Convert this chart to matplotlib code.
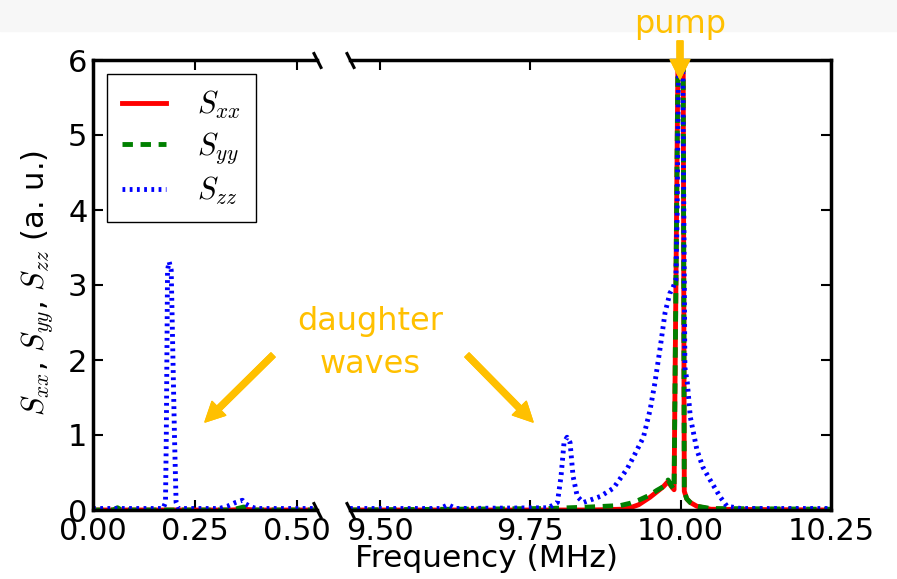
import matplotlib
matplotlib.use("Agg")
import matplotlib.pyplot as plt
from matplotlib.patches import Rectangle

# low-frequency part (daughter wave near 0.19 MHz)
f_zz_low = [0.0, 0.172, 0.178, 0.180, 0.183, 0.187, 0.192, 0.200, 0.204, 0.210,
            0.31, 0.33, 0.35, 0.367, 0.375, 0.385, 0.40, 0.55]
szz_low = [0.02, 0.02, 0.1, 1.0, 3.2, 3.31, 3.2, 1.0, 0.1, 0.02,
           0.02, 0.05, 0.1, 0.13, 0.08, 0.05, 0.02, 0.02]
f_xy_low = [0.0, 0.05, 0.06, 0.07, 0.34, 0.37, 0.40, 0.55]
sxx_low = [0.0, 0.0, 0.01, 0.0, 0.0, 0.01, 0.0, 0.0]
syy_low = [0.0, 0.0, 0.03, 0.0, 0.0, 0.04, 0.0, 0.0]

# high-frequency part (pump near 10 MHz, daughter near 9.81 MHz)
f_zz_high = [9.45, 9.60, 9.613, 9.626, 9.78, 9.795, 9.801, 9.806, 9.811, 9.816,
             9.821, 9.828, 9.838, 9.866, 9.888, 9.911, 9.921, 9.938, 9.949, 9.957,
             9.966, 9.974, 9.982, 9.987, 9.992, 9.994, 9.997, 10.003, 10.007, 10.011,
             10.016, 10.027, 10.037, 10.049, 10.066, 10.077, 10.10, 10.25]
szz_high = [0.02, 0.02, 0.07, 0.02, 0.03, 0.1, 0.45, 0.9, 0.97, 0.9,
            0.45, 0.18, 0.1, 0.18, 0.29, 0.55, 0.7, 0.97, 1.33, 1.69,
            2.17, 2.63, 2.89, 2.96, 3.07, 3.9, 6.5, 6.5, 1.9, 1.7,
            1.24, 0.8, 0.57, 0.4, 0.17, 0.05, 0.02, 0.02]
f_xy_high = [9.45, 9.78, 9.85, 9.90, 9.916, 9.93, 9.949, 9.96, 9.971, 9.979,
             9.984, 9.989, 9.996, 10.004, 10.006, 10.010, 10.016, 10.027, 10.05, 10.25]
sxx_high = [0.0, 0.0, 0.0, 0.01, 0.03, 0.07, 0.17, 0.24, 0.31, 0.38,
            0.32, 0.27, 6.5, 6.5, 0.25, 0.15, 0.1, 0.05, 0.01, 0.0]
syy_high = [0.0, 0.02, 0.04, 0.06, 0.09, 0.13, 0.2, 0.26, 0.31, 0.4,
            0.33, 0.27, 6.5, 6.5, 0.25, 0.15, 0.1, 0.05, 0.02, 0.01]

low_ticks = [0.0, 0.25, 0.5]
high_ticks = [9.5, 9.75, 10.0, 10.25]
y_ticks = [0, 1, 2, 3, 4, 5, 6]

orange = "#FFC000"
plt.rcParams["font.size"] = 22
plt.rcParams["mathtext.fontset"] = "cm"
plt.rcParams["lines.scale_dashes"] = False
plt.rcParams["xtick.direction"] = "in"
plt.rcParams["ytick.direction"] = "in"
plt.rcParams["xtick.major.size"] = 7
plt.rcParams["ytick.major.size"] = 7
plt.rcParams["xtick.major.width"] = 1.5
plt.rcParams["ytick.major.width"] = 1.5
plt.rcParams["xtick.major.pad"] = 5
plt.rcParams["ytick.major.pad"] = 4

W, H = 897, 579
fig = plt.figure(figsize=(W / 100, H / 100), dpi=100)
fig.add_artist(Rectangle((0, 1 - 31 / H), 1, 31 / H, transform=fig.transFigure,
                         color="#f7f7f7", zorder=-5))

ax1 = fig.add_axes([93 / W, 69 / H, 224 / W, 450 / H])
ax2 = fig.add_axes([350 / W, 69 / H, 481 / W, 450 / H])

lw = 3.5
for ax, fz, sz, fxy, sx, sy in [(ax1, f_zz_low, szz_low, f_xy_low, sxx_low, syy_low),
                                (ax2, f_zz_high, szz_high, f_xy_high, sxx_high, syy_high)]:
    ax.plot(fxy, sx, color="red", lw=lw, label="$S_{xx}$")
    ax.plot(fxy, sy, color="green", lw=lw, linestyle=(0, (7.5, 5.5)), label="$S_{yy}$")
    ax.plot(fz, sz, color="blue", lw=lw, linestyle=(0, (2.0, 3.2)), label="$S_{zz}$")
    ax.set_ylim(0, 6)
    ax.set_yticks(y_ticks)
    for s in ax.spines.values():
        s.set_linewidth(2.5)

ax1.set_xlim(0, 0.55)
ax1.set_xticks(low_ticks)
ax1.set_xticklabels(["0.00", "0.25", "0.50"])
ax1.spines["right"].set_visible(False)
ax1.tick_params(top=True, right=False)

ax2.set_xlim(9.45, 10.25)
ax2.set_xticks(high_ticks)
ax2.set_xticklabels(["9.50", "9.75", "10.00", "10.25"])
ax2.spines["left"].set_visible(False)
ax2.tick_params(left=False, labelleft=False, right=True, top=True)

# break marks
mk = dict(marker=[(-0.5, 1), (0.5, -1)], markersize=12, linestyle="none",
          color="k", mec="k", mew=2.2, clip_on=False)
ax1.plot([1, 1], [0, 1], transform=ax1.transAxes, **mk)
ax2.plot([0, 0], [0, 1], transform=ax2.transAxes, **mk)

leg = ax1.legend(loc="upper left", fontsize=22, fancybox=False, framealpha=1,
                 edgecolor="black", handlelength=1.45, handletextpad=1.0,
                 labelspacing=0.28, borderpad=0.5, borderaxespad=0.45)
leg.get_frame().set_linewidth(1.0)

fig.text(486 / W, 12 / H, "Frequency (MHz)", ha="center", va="baseline", fontsize=22.5)
fig.text(37 / W, 296 / H, "$S_{xx}$, $S_{yy}$, $S_{zz}$ (a. u.)", rotation=90,
         ha="center", va="center")

# annotations
fig.text(680 / W, 546 / H, "pump", color=orange, fontsize=23, ha="center", va="baseline")
fig.text(370 / W, 273 / H, "daughter\nwaves", color=orange, fontsize=23,
         ha="center", va="top", linespacing=1.5)
arrow = dict(arrowstyle="simple,head_length=1.0,head_width=1.0,tail_width=0.3",
             mutation_scale=14, color=orange, shrinkA=0, shrinkB=0)
for tail, tip in [((680, 538), (680, 500)), ((273, 224), (205, 157)), ((467, 224), (533, 157))]:
    fig.add_artist(plt.annotate("", xy=tip, xytext=tail, xycoords="figure pixels",
                                textcoords="figure pixels", arrowprops=arrow))

fig.savefig("out.png", dpi=100)
